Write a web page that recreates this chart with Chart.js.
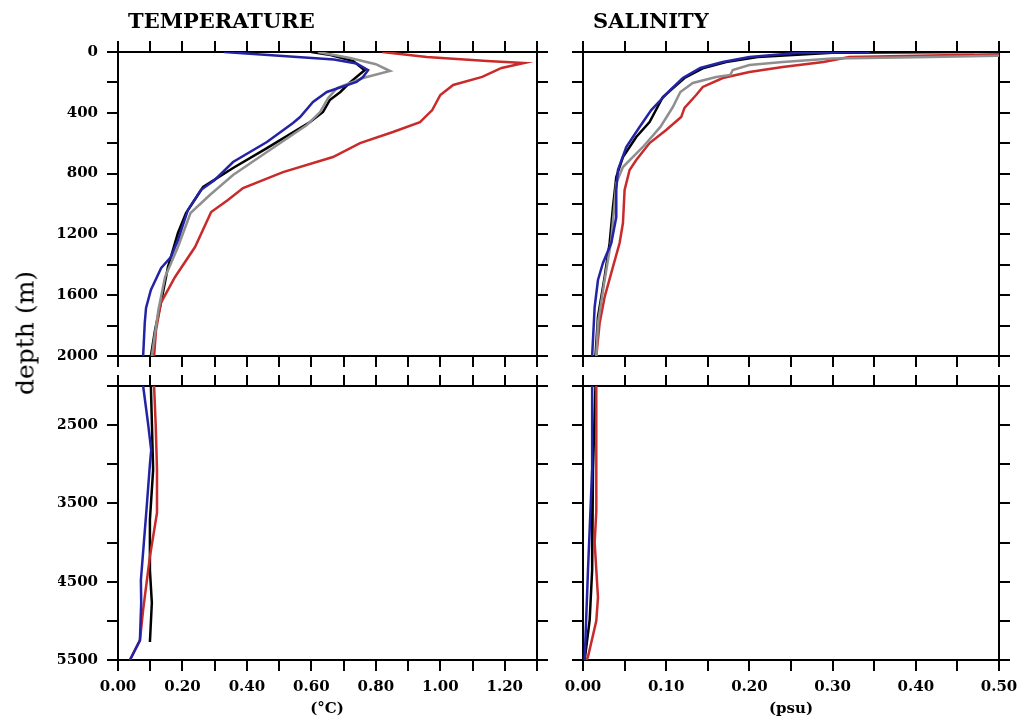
<!DOCTYPE html>
<html lang="en">
<head>
    <meta charset="UTF-8">
    <title>Temperature and salinity profiles</title>
    <script src="https://cdn.jsdelivr.net/npm/chart.js"></script>
    <style>
        body { margin: 0; background: #fff; }
        #wrap { position: relative; width: 1021px; height: 722px; overflow: hidden; }
        #wrap canvas { position: absolute; left: 0; top: 0; }
        .txt { position: absolute; font-family: "DejaVu Serif", serif; color: #000; white-space: nowrap; line-height: 1; }
        .title { font-size: 21px; font-weight: bold; }
        .unit { font-size: 15px; font-weight: bold; transform: translateX(-50%); }
        .ylab { font-size: 25px; transform: translate(-50%, -50%) rotate(-90deg); }
    </style>
</head>
<body>
<div id="wrap">
    <canvas id="tUpper" width="1021" height="722"></canvas>
    <canvas id="sUpper" width="1021" height="722"></canvas>
    <canvas id="tLower" width="1021" height="722"></canvas>
    <canvas id="sLower" width="1021" height="722"></canvas>

    <div class="txt title" style="left:128px; top:10px">TEMPERATURE</div>
    <div class="txt title" style="left:593px; top:10px">SALINITY</div>
    <div class="txt ylab" style="left:25px; top:333px">depth (m)</div>
    <div class="txt unit" style="left:327px; top:701px">(°C)</div>
    <div class="txt unit" style="left:791px; top:701px">(psu)</div>
</div>

<script>
    // Temperature profiles (depth in m, value in °C)
    const tBlackDepth = [0, 20, 60, 120, 200, 263, 316, 395, 461, 500, 632, 763, 888, 1059, 1191, 1414, 1651, 1829, 2000, 2450, 3070, 3710, 4350, 4770, 5270];
    const tBlackVal   = [0.60, 0.66, 0.73, 0.765, 0.72, 0.69, 0.657, 0.636, 0.596, 0.565, 0.462, 0.357, 0.264, 0.211, 0.186, 0.155, 0.133, 0.115, 0.102, 0.105, 0.109, 0.099, 0.099, 0.105, 0.099];

    const tGrayDepth = [0, 40, 80, 125, 171, 237, 303, 395, 480, 658, 809, 941, 1059, 1283, 1480, 1700, 2000];
    const tGrayVal   = [0.62, 0.72, 0.80, 0.844, 0.76, 0.68, 0.652, 0.627, 0.586, 0.462, 0.357, 0.285, 0.225, 0.186, 0.146, 0.125, 0.105];

    const tBlueDepth = [0, 50, 75, 120, 165, 197, 263, 329, 428, 467, 592, 724, 842, 908, 1039, 1237, 1349, 1421, 1566, 1684, 1783, 2000, 2470, 2820, 3000, 3600, 4480, 4770, 5250, 5500];
    const tBlueVal   = [0.33, 0.67, 0.74, 0.776, 0.76, 0.74, 0.648, 0.605, 0.565, 0.543, 0.462, 0.357, 0.30, 0.257, 0.217, 0.186, 0.164, 0.134, 0.102, 0.087, 0.083, 0.078, 0.093, 0.103, 0.099, 0.088, 0.071, 0.072, 0.068, 0.037];

    const tRedDepth = [0, 33, 59, 72, 105, 164, 217, 283, 382, 461, 526, 599, 691, 790, 895, 974, 1053, 1283, 1480, 1651, 1829, 2000, 2500, 3070, 3620, 4180, 4860, 5250, 5500];
    const tRedVal   = [0.82, 0.958, 1.145, 1.26, 1.19, 1.13, 1.04, 1.0, 0.975, 0.937, 0.853, 0.751, 0.667, 0.512, 0.388, 0.341, 0.289, 0.239, 0.177, 0.133, 0.118, 0.112, 0.117, 0.121, 0.121, 0.099, 0.078, 0.068, 0.037];

    // Salinity profiles (depth in m, value in psu)
    const sBlackDepth = [0, 5, 33, 66, 105, 171, 296, 461, 559, 691, 822, 1020, 1257, 1480, 1743, 2000, 3070, 4350, 4990, 5500];
    const sBlackVal   = [0.47, 0.30, 0.21, 0.172, 0.145, 0.122, 0.096, 0.08, 0.064, 0.048, 0.04, 0.036, 0.032, 0.026, 0.018, 0.015, 0.012, 0.011, 0.008, 0.002];

    const sGrayDepth = [0, 25, 35, 42, 66, 86, 118, 151, 164, 204, 263, 362, 493, 625, 757, 862, 993, 1237, 1500, 1783, 2000];
    const sGrayVal   = [0.80, 0.50, 0.40, 0.30, 0.24, 0.20, 0.18, 0.177, 0.16, 0.132, 0.117, 0.108, 0.093, 0.072, 0.048, 0.040, 0.038, 0.034, 0.026, 0.018, 0.016];

    const sBlueDepth = [0, 7, 33, 66, 105, 171, 250, 382, 493, 559, 625, 776, 908, 1086, 1257, 1388, 1500, 1678, 2000, 3070, 4350, 5500];
    const sBlueVal   = [0.345, 0.256, 0.20, 0.168, 0.141, 0.12, 0.105, 0.082, 0.068, 0.06, 0.052, 0.042, 0.040, 0.040, 0.034, 0.024, 0.018, 0.014, 0.011, 0.011, 0.006, 0.002];

    const sRedDepth = [0, 15, 33, 66, 99, 132, 171, 230, 283, 368, 428, 513, 599, 711, 776, 908, 1125, 1257, 1414, 1612, 1783, 2000, 2500, 3070, 3600, 4000, 4700, 5000, 5460, 5500];
    const sRedVal   = [0.70, 0.50, 0.32, 0.289, 0.24, 0.20, 0.168, 0.144, 0.136, 0.122, 0.118, 0.10, 0.08, 0.064, 0.056, 0.05, 0.048, 0.044, 0.036, 0.026, 0.02, 0.016, 0.016, 0.016, 0.016, 0.014, 0.018, 0.016, 0.006, 0.004];

    const BLUE = '#2323a6';
    const GRAY = '#8f8f8f';
    const RED = '#c92a2a';
    const BLACK = '#000000';

    function pts(depth, val) {
        return depth.map((d, i) => ({ x: val[i], y: d }));
    }

    // first dataset ends up on top
    function profiles(kind) {
        const src = kind === 'T'
            ? [[tBlueDepth, tBlueVal, BLUE], [tGrayDepth, tGrayVal, GRAY], [tRedDepth, tRedVal, RED], [tBlackDepth, tBlackVal, BLACK]]
            : [[sBlueDepth, sBlueVal, BLUE], [sGrayDepth, sGrayVal, GRAY], [sRedDepth, sRedVal, RED], [sBlackDepth, sBlackVal, BLACK]];
        return src.map(([d, v, c]) => ({
            data: pts(d, v),
            showLine: true,
            borderColor: c,
            borderWidth: 2.5,
            pointRadius: 0,
            fill: false,
            tension: 0
        }));
    }

    const tickFont = { family: 'DejaVu Serif', size: 15, weight: 'bold' };
    const gridOpts = { drawOnChartArea: false, drawTicks: true, tickLength: 11, color: '#000', lineWidth: 2 };
    const borderOpts = { display: true, color: '#000', width: 2 };

    function axis(position, min, max, step, labelFn, size) {
        const horiz = position === 'top' || position === 'bottom';
        return {
            type: 'linear',
            position: position,
            min: min,
            max: max,
            reverse: !horiz,
            grid: gridOpts,
            border: borderOpts,
            ticks: {
                stepSize: step,
                autoSkip: false,
                maxRotation: 0,
                color: '#000',
                font: tickFont,
                padding: horiz ? 7 : 9,
                callback: labelFn
            },
            afterFit(scale) {
                if (horiz) scale.height = size; else scale.width = size;
                scale.paddingLeft = 0; scale.paddingRight = 0;
                scale.paddingTop = 0; scale.paddingBottom = 0;
            }
        };
    }

    // labels go on every other tick, picked by value (tick order flips on reversed axes)
    const none = () => '';
    const tempLabel = v => Math.round(v * 10) % 2 === 0 ? v.toFixed(2) : '';
    const salLabel = v => Math.round(v * 100) % 10 === 0 ? v.toFixed(2) : '';
    const depthUpper = v => v % 400 === 0 ? String(v) : '';
    const depthLower = v => (v - 2000) % 1000 === 500 ? String(v) : '';

    // panel: canvas id, variable, upper/lower depth range, plot box [left, top, right, bottom]
    function panel(id, kind, upper, box, showX, showY) {
        const xMax = kind === 'T' ? 1.3 : 0.5;
        const xStep = kind === 'T' ? 0.1 : 0.05;
        const xLab = showX ? (kind === 'T' ? tempLabel : salLabel) : none;
        const yMin = upper ? 0 : 2000;
        const yMax = upper ? 2000 : 5500;
        const yStep = upper ? 200 : 500;
        const yLab = showY ? (upper ? depthUpper : depthLower) : none;

        new Chart(document.getElementById(id), {
            type: 'scatter',
            data: { datasets: profiles(kind) },
            options: {
                responsive: false,
                animation: false,
                events: [],
                layout: {
                    padding: { left: box[0] - 60, top: box[1] - 12, right: 1021 - box[2] - 12, bottom: 722 - box[3] - 40 }
                },
                plugins: { legend: { display: false }, tooltip: { enabled: false } },
                scales: {
                    x: axis('bottom', 0, xMax, xStep, xLab, 40),
                    x2: axis('top', 0, xMax, xStep, none, 12),
                    y: axis('left', yMin, yMax, yStep, yLab, 60),
                    y2: axis('right', yMin, yMax, yStep, none, 12)
                }
            }
        });
    }

    panel('tUpper', 'T', true, [118, 52, 537, 356], false, true);
    panel('sUpper', 'S', true, [583, 52, 999, 356], false, false);
    panel('tLower', 'T', false, [118, 386, 537, 660], true, true);
    panel('sLower', 'S', false, [583, 386, 999, 660], true, false);
</script>
</body>
</html>
